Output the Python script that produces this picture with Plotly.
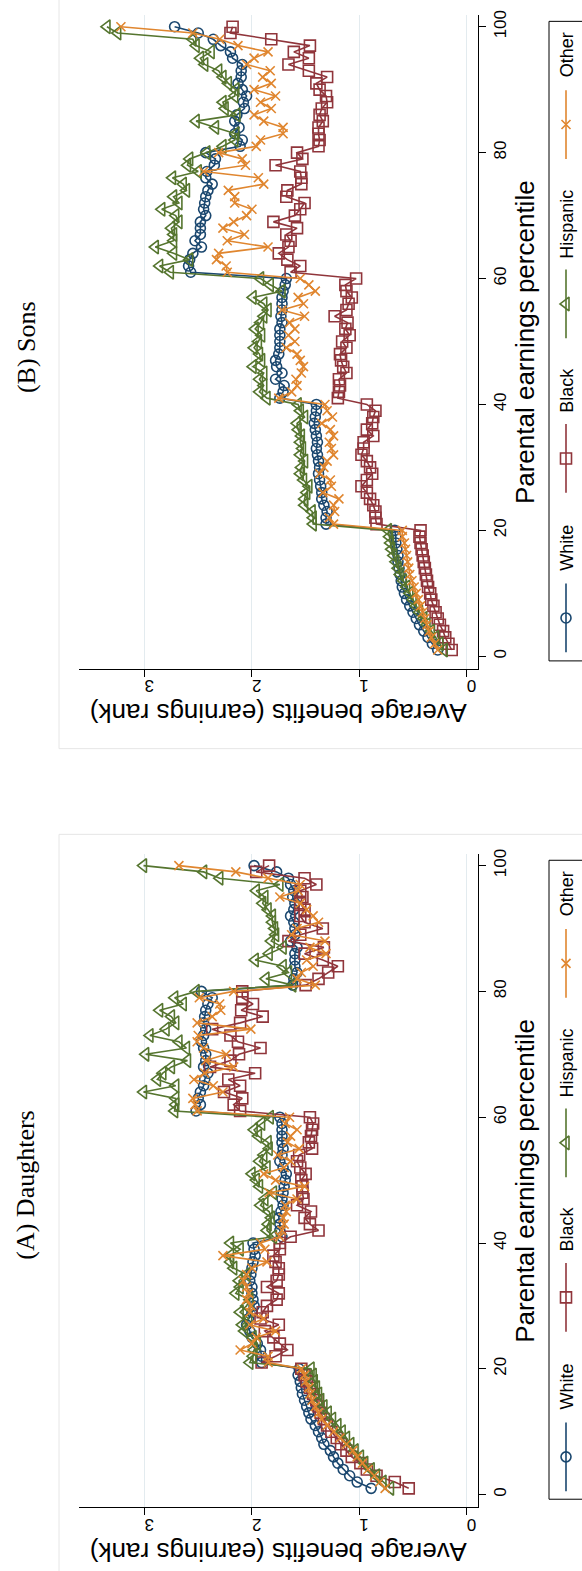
import plotly.graph_objects as go

# Parental earnings percentile (1..100) on the vertical axis
PERCENTILES = list(range(1, 101))
GROUPS = ["White", "Black", "Hispanic", "Other"]
BENEFIT_TICKS = [0, 1, 2, 3]
PERCENTILE_TICKS = [0, 20, 40, 60, 80, 100]

# ---- Daughters: average benefits (earnings rank) by parental percentile ----
DAUGHTERS_WHITE = [
    0.89, 1.02, 1.09, 1.15, 1.20, 1.24, 1.27, 1.33, 1.35, 1.38, 1.41, 1.45, 1.47, 1.49, 1.51, 1.53, 1.54, 1.55, 1.57, 1.56,
    1.91, 1.91, 1.92, 1.95, 2.00, 2.02, 2.05, 2.03, 2.00, 1.98, 1.99, 2.00, 2.00, 2.02, 2.01, 2.00, 1.99, 1.97, 1.98, 1.99,
    1.72, 1.74, 1.74, 1.75, 1.73, 1.71, 1.72, 1.71, 1.70, 1.69, 1.68, 1.71, 1.74, 1.72, 1.71, 1.72, 1.72, 1.72, 1.72, 1.74,
    2.52, 2.48, 2.50, 2.48, 2.45, 2.44, 2.41, 2.45, 2.43, 2.43, 2.45, 2.47, 2.45, 2.43, 2.45, 2.44, 2.43, 2.41, 2.37, 2.47,
    1.62, 1.61, 1.58, 1.60, 1.60, 1.60, 1.58, 1.64, 1.60, 1.60, 1.61, 1.64, 1.61, 1.60, 1.62, 1.61, 1.64, 1.66, 1.77, 1.98,
]
DAUGHTERS_BLACK = [
    0.54, 0.67, 0.84, 0.93, 0.99, 1.07, 1.12, 1.17, 1.21, 1.26, 1.30, 1.33, 1.36, 1.38, 1.40, 1.43, 1.46, 1.49, 1.51, 1.54,
    1.91, 1.78, 1.67, 1.74, 1.80, 1.88, 1.75, 1.92, 1.90, 1.86, 1.77, 1.75, 1.86, 1.77, 1.75, 1.75, 1.78, 1.80, 1.74, 1.74,
    1.64, 1.38, 1.46, 1.51, 1.45, 1.58, 1.52, 1.53, 1.53, 1.54, 1.50, 1.55, 1.58, 1.56, 1.44, 1.47, 1.45, 1.44, 1.43, 1.46,
    2.11, 2.17, 2.09, 2.26, 2.11, 2.22, 1.97, 2.39, 2.20, 2.12, 1.92, 2.13, 2.20, 2.37, 2.11, 1.90, 2.10, 1.99, 2.09, 2.09,
    1.50, 1.38, 1.29, 1.20, 1.34, 1.51, 1.33, 1.66, 1.55, 1.34, 1.51, 1.55, 1.51, 1.55, 1.53, 1.55, 1.40, 1.51, 1.96, 1.84,
]
DAUGHTERS_HISPANIC = [
    0.71, 0.78, 0.84, 0.89, 0.95, 0.99, 1.04, 1.08, 1.12, 1.16, 1.20, 1.25, 1.29, 1.33, 1.36, 1.38, 1.40, 1.42, 1.43, 1.45,
    2.02, 1.99, 1.98, 1.95, 1.99, 2.07, 2.09, 2.03, 2.11, 2.05, 2.02, 2.15, 2.11, 2.12, 2.05, 2.17, 2.20, 2.20, 2.11, 2.20,
    1.80, 1.86, 1.85, 1.82, 1.84, 1.92, 1.88, 1.80, 1.93, 1.96, 2.00, 1.86, 1.93, 1.89, 1.84, 1.85, 1.94, 1.98, 1.91, 1.83,
    2.72, 2.71, 2.71, 3.01, 2.71, 2.88, 2.83, 2.75, 2.60, 2.99, 2.61, 2.68, 2.95, 2.80, 2.71, 2.75, 2.86, 2.64, 2.72, 2.52,
    1.62, 1.87, 1.66, 1.71, 1.97, 1.84, 1.71, 1.82, 1.78, 1.79, 1.81, 1.81, 1.85, 1.90, 1.88, 1.96, 1.74, 2.30, 2.45, 3.01,
]
DAUGHTERS_OTHER = [
    0.76, 0.81, 0.86, 0.92, 0.97, 1.02, 1.06, 1.12, 1.18, 1.24, 1.30, 1.35, 1.38, 1.41, 1.44, 1.46, 1.47, 1.50, 1.51, 1.54,
    1.85, 1.85, 2.11, 2.00, 1.96, 1.78, 2.02, 1.89, 2.02, 2.01, 2.05, 2.03, 2.05, 2.08, 2.05, 2.00, 1.86, 2.27, 1.88, 1.92,
    1.74, 1.72, 1.70, 1.71, 1.68, 1.69, 1.58, 1.84, 1.51, 1.78, 1.89, 1.70, 1.64, 1.76, 1.56, 1.67, 1.64, 1.58, 1.69, 1.65,
    2.51, 2.53, 2.55, 2.27, 2.36, 2.54, 2.44, 2.17, 2.43, 2.24, 2.45, 2.51, 2.50, 2.01, 2.51, 2.37, 2.29, 2.30, 2.49, 2.17,
    1.41, 1.58, 1.54, 1.43, 1.49, 1.31, 1.46, 1.32, 1.63, 1.58, 1.38, 1.43, 1.49, 1.55, 1.74, 1.57, 1.55, 1.85, 2.15, 2.68,
]

# ---- Sons ----
SONS_WHITE = [
    0.27, 0.32, 0.36, 0.40, 0.44, 0.47, 0.50, 0.53, 0.56, 0.58, 0.60, 0.61, 0.62, 0.63, 0.64, 0.64, 0.65, 0.66, 0.66, 0.67,
    1.31, 1.31, 1.30, 1.33, 1.35, 1.35, 1.36, 1.37, 1.38, 1.37, 1.38, 1.39, 1.40, 1.39, 1.40, 1.41, 1.42, 1.41, 1.40, 1.40,
    1.74, 1.71, 1.70, 1.78, 1.72, 1.77, 1.78, 1.75, 1.74, 1.74, 1.74, 1.74, 1.72, 1.73, 1.72, 1.72, 1.72, 1.71, 1.69, 1.68,
    2.57, 2.59, 2.58, 2.55, 2.47, 2.53, 2.48, 2.48, 2.48, 2.43, 2.45, 2.44, 2.43, 2.41, 2.37, 2.43, 2.42, 2.35, 2.34, 2.43,
    2.11, 2.09, 2.16, 2.12, 2.16, 2.14, 2.07, 2.08, 2.05, 2.09, 2.13, 2.10, 2.10, 2.09, 2.18, 2.20, 2.29, 2.36, 2.50, 2.72,
]
SONS_BLACK = [
    0.14, 0.17, 0.20, 0.22, 0.25, 0.27, 0.29, 0.31, 0.33, 0.34, 0.36, 0.37, 0.38, 0.39, 0.40, 0.41, 0.42, 0.43, 0.44, 0.43,
    0.84, 0.85, 0.85, 0.87, 0.90, 0.93, 0.98, 0.93, 0.88, 0.90, 0.93, 0.98, 0.96, 0.96, 0.87, 0.93, 0.88, 0.87, 0.85, 0.93,
    1.20, 1.19, 1.18, 1.19, 1.12, 1.15, 1.17, 1.18, 1.12, 1.16, 1.09, 1.13, 1.11, 1.23, 1.12, 1.10, 1.07, 1.12, 1.13, 1.03,
    1.64, 1.55, 1.67, 1.75, 1.66, 1.64, 1.68, 1.58, 1.80, 1.60, 1.55, 1.51, 1.68, 1.67, 1.54, 1.54, 1.55, 1.78, 1.53, 1.58,
    1.38, 1.37, 1.38, 1.38, 1.34, 1.37, 1.35, 1.30, 1.31, 1.37, 1.40, 1.30, 1.47, 1.66, 1.47, 1.61, 1.46, 1.82, 2.20, 2.18,
]
SONS_HISPANIC = [
    0.21, 0.25, 0.29, 0.33, 0.37, 0.40, 0.44, 0.47, 0.50, 0.53, 0.56, 0.59, 0.62, 0.64, 0.66, 0.68, 0.70, 0.71, 0.72, 0.73,
    1.43, 1.43, 1.44, 1.51, 1.51, 1.49, 1.47, 1.52, 1.55, 1.54, 1.51, 1.55, 1.53, 1.55, 1.54, 1.57, 1.58, 1.51, 1.55, 1.57,
    1.86, 1.93, 1.89, 1.93, 1.89, 1.99, 1.91, 1.93, 1.98, 1.94, 1.91, 1.97, 1.92, 1.89, 1.85, 1.89, 1.99, 1.72, 1.83, 1.92,
    2.76, 2.86, 2.58, 2.73, 2.90, 2.73, 2.73, 2.75, 2.68, 2.71, 2.84, 2.68, 2.73, 2.61, 2.64, 2.74, 2.50, 2.60, 2.58, 2.42,
    2.27, 2.16, 2.15, 2.34, 2.52, 2.14, 2.25, 2.27, 2.16, 2.15, 2.22, 2.27, 2.31, 2.44, 2.48, 2.38, 2.52, 2.55, 3.25, 3.35,
]
SONS_OTHER = [
    0.27, 0.30, 0.33, 0.35, 0.37, 0.39, 0.41, 0.43, 0.45, 0.47, 0.49, 0.51, 0.53, 0.54, 0.55, 0.56, 0.57, 0.58, 0.60, 0.60,
    1.24, 1.28, 1.23, 1.24, 1.19, 1.34, 1.26, 1.27, 1.37, 1.33, 1.30, 1.24, 1.26, 1.28, 1.24, 1.27, 1.35, 1.25, 1.30, 1.32,
    1.75, 1.63, 1.58, 1.59, 1.54, 1.52, 1.55, 1.58, 1.68, 1.60, 1.66, 1.60, 1.65, 1.51, 1.72, 1.52, 1.57, 1.41, 1.47, 1.55,
    2.23, 2.24, 2.33, 2.31, 1.85, 2.23, 2.07, 2.27, 2.17, 2.05, 2.00, 2.16, 2.16, 2.22, 1.89, 1.94, 2.45, 2.06, 2.09, 2.31,
    1.96, 1.92, 1.71, 1.71, 1.89, 1.98, 1.82, 1.92, 1.78, 1.98, 1.82, 1.90, 1.83, 2.05, 1.98, 1.85, 2.13, 2.30, 2.55, 3.22,
]

DAUGHTERS = dict(zip(GROUPS, [DAUGHTERS_WHITE, DAUGHTERS_BLACK, DAUGHTERS_HISPANIC, DAUGHTERS_OTHER]))
SONS = dict(zip(GROUPS, [SONS_WHITE, SONS_BLACK, SONS_HISPANIC, SONS_OTHER]))

# ---- styling ----
W, H = 582, 1571
SANS = "Liberation Sans, Arial, Helvetica, sans-serif"
SERIF = "Liberation Serif, Times New Roman, serif"
COLORS = {"White": "#1a476f", "Black": "#90353b", "Hispanic": "#55752f", "Other": "#e0862f"}
SYMBOLS = {"White": "circle-open", "Black": "square-open",
           "Hispanic": "triangle-left-open", "Other": "x-thin-open"}
SIZES = {"White": 10, "Black": 11, "Hispanic": 12, "Other": 9}
LINE_W = 1.6
GRID = "#e3ebef"
FRAME = "#e6e6e6"
CLEAR = "rgba(0,0,0,0)"


def fx(x):
    return x / W


def fy(y):
    return 1 - y / H


def label(text, x, y, angle, size, family=SANS):
    return dict(text=text, x=fx(x), y=fy(y), xref="paper", yref="paper",
                xanchor="center", yanchor="middle", showarrow=False,
                textangle=angle, font=dict(family=family, size=size, color="black"))


# plot area (pixels) shared by both panels; panel A sits below panel B
PLOT_LEFT, PLOT_RIGHT = 78.7, 478.0
PANELS = [
    dict(title="(B) Sons", data=SONS, top=10.4, bottom=666.0, frame=(-30, 746), xa="x", ya="y"),
    dict(title="(A) Daughters", data=DAUGHTERS, top=852.0, bottom=1507.0, frame=(832, 1620), xa="x2", ya="y2"),
]

fig = go.Figure()
layout = dict(
    width=W, height=H, margin=dict(l=0, r=0, t=0, b=0),
    paper_bgcolor="white", plot_bgcolor=CLEAR, showlegend=False,
    font=dict(family=SANS, color="black"),
)
annotations = []
shapes = []

for i, panel in enumerate(PANELS):
    sfx = "" if i == 0 else str(i + 1)
    layout["xaxis" + sfx] = dict(
        domain=[fx(PLOT_LEFT), fx(PLOT_RIGHT)], anchor=panel["ya"],
        range=[3.613, -0.105], tickvals=BENEFIT_TICKS, ticks="outside", ticklen=7,
        tickwidth=1, tickcolor="black", tickangle=180, tickfont=dict(size=17, family=SANS),
        showline=True, linecolor="black", linewidth=1, showgrid=True, gridcolor=GRID,
        gridwidth=1.2, zeroline=False, fixedrange=True,
    )
    layout["yaxis" + sfx] = dict(
        domain=[fy(panel["bottom"]), fy(panel["top"])], anchor=panel["xa"], side="right",
        range=[-2.0, 101.8], tickvals=PERCENTILE_TICKS, ticks="outside", ticklen=7,
        tickwidth=1, tickcolor="black", tickangle=-90, tickfont=dict(size=17, family=SANS),
        showline=True, linecolor="black", linewidth=1, showgrid=False, zeroline=False,
        fixedrange=True,
    )

    for g in GROUPS:
        fig.add_trace(go.Scatter(
            x=panel["data"][g], y=PERCENTILES, mode="lines+markers", name=g,
            xaxis=panel["xa"], yaxis=panel["ya"],
            line=dict(color=COLORS[g], width=LINE_W),
            marker=dict(symbol=SYMBOLS[g], size=SIZES[g], color=COLORS[g],
                        line=dict(color=COLORS[g], width=LINE_W)),
            cliponaxis=False,
        ))

    mid = (panel["top"] + panel["bottom"]) / 2
    # light outline of each panel's graph region
    f0, f1 = panel["frame"]
    shapes.append(dict(type="rect", xref="paper", yref="paper",
                       x0=fx(59), x1=fx(700), y0=fy(f1), y1=fy(f0),
                       line=dict(color=FRAME, width=1), layer="below"))
    annotations.append(label(panel["title"], 26, mid + 5, -90, 26, SERIF))
    annotations.append(label("Average benefits (earnings rank)", (PLOT_LEFT + PLOT_RIGHT) / 2,
                             panel["bottom"] + 45, 180, 26))
    annotations.append(label("Parental earnings percentile", 525, mid, -90, 26))

    # legend box and keys (items stacked along the right edge)
    box_top = panel["top"] + 6
    box_bottom = panel["bottom"] - 8
    shapes.append(dict(type="rect", xref="paper", yref="paper",
                       x0=fx(549), x1=fx(700), y0=fy(box_bottom), y1=fy(box_top),
                       line=dict(color="black", width=1)))
    key_x = 566
    legend_rows = [("Other", 34, 69, 138), ("Hispanic", 204, 249, 318),
                   ("Black", 370.5, 404, 473), ("White", 528, 564, 633)]
    for g, text_c, l0, l1 in legend_rows:
        annotations.append(label(g, key_x + 1, box_top + text_c, -90, 18))
        fig.add_trace(go.Scatter(
            x=[key_x, key_x], y=[box_top + l0, box_top + l1], mode="lines",
            xaxis="x3", yaxis="y3", line=dict(color=COLORS[g], width=LINE_W), hoverinfo="skip",
        ))
        fig.add_trace(go.Scatter(
            x=[key_x], y=[box_top + (l0 + l1) / 2], mode="markers", xaxis="x3", yaxis="y3",
            marker=dict(symbol=SYMBOLS[g], size=SIZES[g], color=COLORS[g],
                        line=dict(color=COLORS[g], width=LINE_W)), hoverinfo="skip",
        ))

# pixel-space overlay used for legend keys
layout["xaxis3"] = dict(domain=[0, 1], range=[0, W], visible=False, fixedrange=True, anchor="y3")
layout["yaxis3"] = dict(domain=[0, 1], range=[H, 0], visible=False, fixedrange=True, anchor="x3")
layout["annotations"] = annotations
layout["shapes"] = shapes
fig.update_layout(**layout)

fig.write_html("out.html")
